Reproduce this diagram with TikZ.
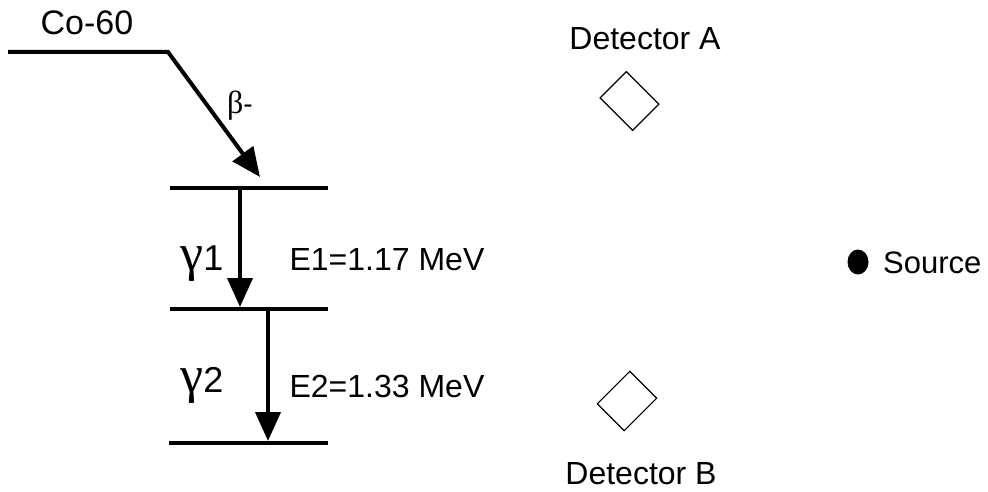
\documentclass[tikz,border=0pt]{standalone}
\usepackage{fontspec}
\setmainfont{Liberation Sans}
\newfontfamily\greekfont{Liberation Serif}
\usetikzlibrary{arrows.meta,shapes.geometric}
\newcommand\gsym[1]{{\greekfont\fontsize{52}{58}\selectfont #1}}
\begin{document}
\begin{tikzpicture}[x=1pt,y=-1pt,
  level/.style={line width=4pt},
  decay/.style={line width=4pt,line join=miter,-{Triangle[length=29pt,width=25pt]}},
  lbl/.style={inner sep=0pt,anchor=base,font=\fontsize{32}{38}\selectfont},
  glbl/.style={inner sep=0pt,anchor=base,font=\fontsize{36}{42}\selectfont},
  detector/.style={draw,line width=1.2pt,inner sep=0pt,rotate=-45},
]
\useasboundingbox (0,0) rectangle (988,492);

% energy levels of the decay scheme
\coordinate (top w) at (8,52);
\coordinate (bend) at (168,52);
\coordinate (beta tip) at (260,177);
\coordinate (l1w) at (170,188); \coordinate (l1e) at (328,188);
\coordinate (l2w) at (170,309); \coordinate (l2e) at (328,309);
\coordinate (l3w) at (169,443); \coordinate (l3e) at (328,443);
\draw[level] (l1w) -- (l1e);
\draw[level] (l2w) -- (l2e);
\draw[level] (l3w) -- (l3e);

% beta decay and the two gamma transitions
\draw[decay] (top w) -- (bend) -- (beta tip);
\coordinate (g1s) at (240,188); \coordinate (g1e) at (240,307);
\coordinate (g2s) at (268,309); \coordinate (g2e) at (268,441);
\draw[decay] (g1s) -- (g1e);
\draw[decay] (g2s) -- (g2e);

% labels
\node[lbl,font=\fontsize{34}{40}\selectfont] (co) at (87,35) {Co-60};
\node[inner sep=0pt,anchor=base west,font=\fontsize{28}{32}\selectfont] (beta) at (227,114) {{\greekfont\fontsize{32}{36}\selectfont β}-};
\node[glbl] (gam1) at (202,270) {\gsym{γ}1};
\node[glbl] (gam2) at (202,392) {\gsym{γ}2};
\node[lbl] (e1) at (387,270) {E1=1.17 MeV};
\node[lbl] (e2) at (387,397) {E2=1.33 MeV};

% detectors and source
\node[detector,minimum width=46pt,minimum height=37pt] (detA) at (629.5,101) {};
\node[detector,minimum width=38pt,minimum height=46pt] (detB) at (627,401) {};
\node[lbl] (detA label) at (645,50) {Detector A};
\node[lbl] (detB label) at (641,484) {Detector B};
\node[fill=black,ellipse,minimum width=21pt,minimum height=25pt,inner sep=0pt] (src) at (858,262) {};
\node[inner sep=0pt,anchor=base west,font=\fontsize{31}{36}\selectfont] (src label) at (883,273) {Source};
\end{tikzpicture}
\end{document}
